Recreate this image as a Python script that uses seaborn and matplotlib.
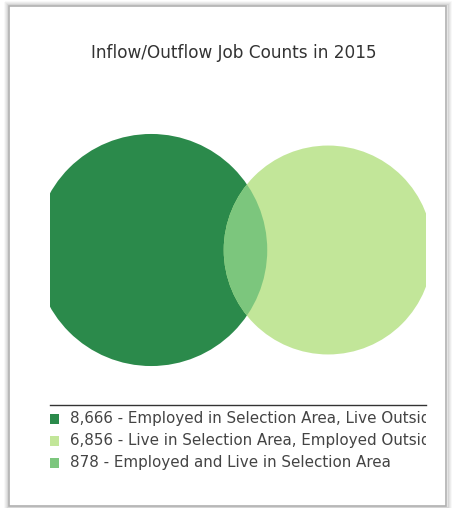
import numpy as np
import pandas as pd
import matplotlib
matplotlib.use("Agg")
import matplotlib.pyplot as plt
import seaborn as sns
from matplotlib.patches import Circle, Rectangle

# ---- data ----
title = "Inflow/Outflow Job Counts in 2015"
labels = ["Employed in Selection Area, Live Outside",
          "Live in Selection Area, Employed Outside",
          "Employed and Live in Selection Area"]
counts = [8666, 6856, 878]
colors = ["#2b8a4b", "#c2e699", "#7cc67d"]

sns.set_theme(style="white")
plt.rcParams["font.family"] = ["DejaVu Sans"]

W, H = 460, 508
fig = plt.figure(figsize=(W / 100, H / 100), dpi=100)
fig.patch.set_facecolor("white")

def px_axes(x0, y0, x1, y1, **kw):
    return fig.add_axes([x0 / W, 1 - y1 / H, (x1 - x0) / W, (y1 - y0) / H], **kw)

# ---- card background with soft shadow ----
bg = px_axes(0, 0, W, H, zorder=-5)
bg.set_xlim(0, W); bg.set_ylim(H, 0); bg.axis("off")
cx0, cy0, cx1, cy1 = 9, 6, 446, 506
for i, a in enumerate([0.12, 0.08, 0.05, 0.03]):
    g = i + 1
    bg.add_patch(Rectangle((cx0 - g, cy0 - g), cx1 - cx0 + 2 * g + 1, cy1 - cy0 + 2 * g,
                           facecolor="none", edgecolor="black", alpha=a, lw=1.2))
bg.add_patch(Rectangle((cx0, cy0), cx1 - cx0, cy1 - cy0, facecolor="white",
                       edgecolor="#b0b0b0", lw=1.2))

# ---- Venn geometry from data (area-proportional) ----
r1 = np.sqrt((counts[0] + counts[2]) / np.pi)
r2 = np.sqrt((counts[1] + counts[2]) / np.pi)

def lens(d, a, b):
    d1 = (d * d + a * a - b * b) / (2 * d)
    d2 = d - d1
    s1 = a * a * np.arccos(np.clip(d1 / a, -1, 1)) - d1 * np.sqrt(max(a * a - d1 * d1, 0))
    s2 = b * b * np.arccos(np.clip(d2 / b, -1, 1)) - d2 * np.sqrt(max(b * b - d2 * d2, 0))
    return s1 + s2

lo, hi = abs(r1 - r2) + 1e-9, r1 + r2
for _ in range(100):
    mid = (lo + hi) / 2
    if lens(mid, r1, r2) > counts[2]:
        lo = mid
    else:
        hi = mid
d = (lo + hi) / 2

# ---- main axes ----
ax = px_axes(50, 115, 426, 385)
view_w = 178.6
scale = 376 / view_w
view_h = 270 / scale
xc = d / 2 - 0.8
ax.set_xlim(xc - view_w / 2, xc + view_w / 2)
ax.set_ylim(-view_h / 2, view_h / 2)
ax.axis("off")

clip_rect = Rectangle((0, 0), 1, 1, transform=ax.transAxes, facecolor="none",
                      edgecolor="none")
ax.add_patch(clip_rect)

c1 = Circle((0, 0), r1, facecolor=colors[0], edgecolor="none")
c2 = Circle((d, 0), r2, facecolor=colors[1], edgecolor="none")
c3 = Circle((d, 0), r2, facecolor=colors[2], edgecolor="none")
for c in (c1, c2, c3):
    ax.add_patch(c)
c1.set_clip_path(clip_rect)
c2.set_clip_path(clip_rect)
c3.set_clip_path(c1)

# ---- title ----
fig.text(234 / W, 1 - 53 / H, title, ha="center", va="center",
         fontsize=12.2, color="#333333")

# ---- legend ----
lax = px_axes(50, 405, 426, 490)
lax.set_xlim(0, 376)
lax.set_ylim(85, 0)
lax.set_facecolor("none")
sns.despine(ax=lax, top=False, right=True, left=True, bottom=True)
lax.spines["top"].set_color("#333333")
lax.spines["top"].set_linewidth(1.0)
lax.set_xticks([]); lax.set_yticks([])

leg_df = pd.DataFrame({"x": [4.5] * 3, "y": [14 + 22 * i for i in range(3)],
                       "lab": labels})
sns.scatterplot(data=leg_df, x="x", y="y", hue="lab", palette=colors, marker="s",
                s=44, linewidth=0, legend=False, ax=lax)
lax.set_xlabel(""); lax.set_ylabel("")
for i, (c, lab) in enumerate(zip(counts, labels)):
    lax.text(20, 14 + 22 * i, f"{c:,} - {lab}", va="center", ha="left",
             fontsize=10.9, color="#444444", clip_on=True)

fig.savefig("out.png", dpi=100, facecolor="white")
